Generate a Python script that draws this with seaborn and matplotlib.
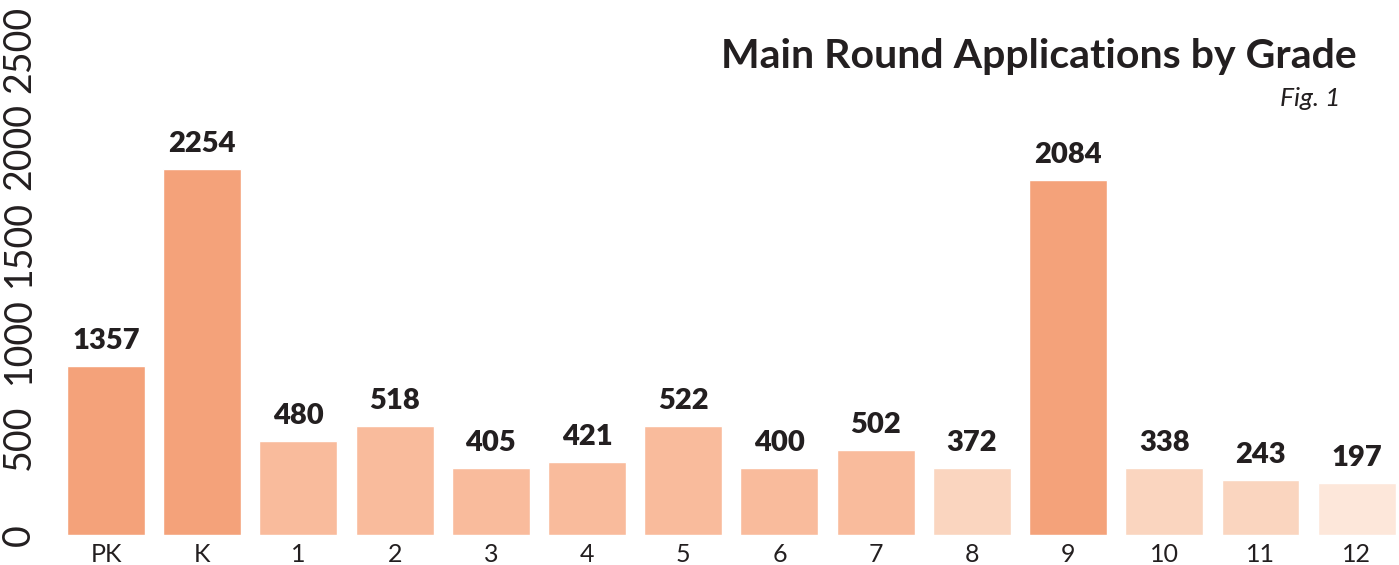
import matplotlib
matplotlib.use("Agg")
import matplotlib.pyplot as plt
import seaborn as sns
import pandas as pd

# grades and application counts (the labels printed over the bars)
grades = ["PK", "K", "1", "2", "3", "4", "5", "6", "7", "8", "9", "10", "11", "12"]
applications = [1357, 2254, 480, 518, 405, 421, 522, 400, 502, 372, 2084, 338, 243, 197]

# bar heights as drawn in the source graphic, read against its own y axis
# (the original bars are not to scale with the printed counts)
bar_heights = [869, 1883, 484, 561, 345, 376, 561, 345, 437, 345, 1826, 345, 283, 267]

# fill shades per grade
bar_colors = ["#F4A27A", "#F4A27A", "#F9BB9C", "#F9BB9C", "#F9BB9C", "#F9BB9C", "#F9BB9C",
              "#F9BB9C", "#F9BB9C", "#FAD5BF", "#F4A27A", "#FAD5BF", "#FAD5BF", "#FDE7DA"]

y_ticks = [0, 500, 1000, 1500, 2000, 2500]

df = pd.DataFrame({"grade": grades, "height": bar_heights, "apps": applications})

sns.set_theme(style="white")
plt.rcParams["font.family"] = ["Lato", "DejaVu Sans"]

fig = plt.figure(figsize=(13.99, 5.65), dpi=100)
ax = fig.add_axes([0.0414, 0.0531, 0.9593, 0.9462])

sns.barplot(data=df, x="grade", y="height", hue="grade", palette=bar_colors,
            legend=False, width=0.81, saturation=1, ax=ax)

for i, row in df.iterrows():
    ax.annotate(str(row["apps"]), (i, row["height"]), xytext=(0, 12),
                textcoords="offset points", ha="center", va="baseline",
                fontsize=21, fontweight="heavy", color="#231F20")

ax.set_xlim(-0.5, 13.45)
ax.set_ylim(0, 2750)
ax.set_yticks(y_ticks)
ax.set_xlabel("")
ax.set_ylabel("")
ax.tick_params(axis="x", length=0, pad=6, labelsize=18, labelcolor="#231F20")
ax.tick_params(axis="y", length=0, pad=15, labelsize=27, labelcolor="#231F20")
for lab in ax.get_yticklabels():
    lab.set_rotation(90)
    lab.set_va("center")
sns.despine(ax=ax, left=True, bottom=True)

fig.text(0.970, 0.8796, "Main Round Applications by Grade", ha="right", va="baseline",
         fontsize=29.5, fontweight="bold", color="#231F20")
fig.text(0.958, 0.8124, "Fig. 1", ha="right", va="baseline", fontsize=19,
         fontstyle="italic", color="#231F20")

fig.savefig("out.png", dpi=100, facecolor="white")
